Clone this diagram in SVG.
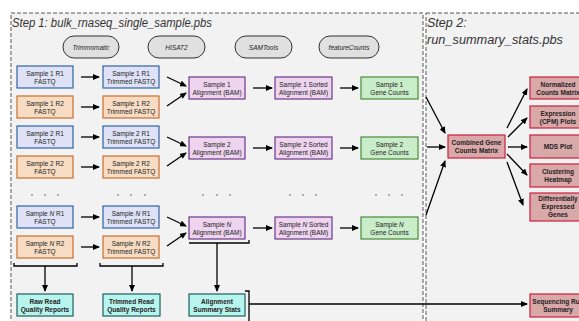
<svg xmlns="http://www.w3.org/2000/svg" width="579" height="321" viewBox="0 0 579 321">
<style>
text{font-family:"Liberation Sans",Arial,Helvetica,sans-serif;font-size:6.5px;fill:#222;text-anchor:middle}
.title{font-size:12.5px;font-style:italic;text-anchor:start;fill:#333}
.pill rect{fill:#e0e0e0;stroke:#333;stroke-width:1}
.pill text{font-style:italic}
.b{font-weight:bold}
.blue rect{fill:#dfe2f6;stroke:#2f64a6;stroke-width:1.2}
.orange rect{fill:#f7dcc3;stroke:#c8702e;stroke-width:1.2}
.purple rect{fill:#eed4ee;stroke:#6a3a88;stroke-width:1.2}
.green rect{fill:#c9ecc9;stroke:#4a8a3a;stroke-width:1.2}
.teal rect{fill:#b8f4ee;stroke:#1c5f5f;stroke-width:1.2}
.teal text,.red text{font-weight:bold}
.red rect{fill:#d9a8a8;stroke:#c81e3c;stroke-width:1.2}
.stage{fill:#f2f2f2;stroke:#555;stroke-width:1;stroke-dasharray:4 2}
.arr{stroke:#000;stroke-width:1.3;fill:none;marker-end:url(#ah)}
.ln{stroke:#000;stroke-width:1.3;fill:none}
.dot{fill:#333}
</style>
<defs>
<marker id="ah" markerWidth="7" markerHeight="6" refX="6" refY="3" orient="auto" markerUnits="userSpaceOnUse">
<path d="M0,0 L7,3 L0,6 Z" fill="#000"/>
</marker>
</defs>
<rect width="579" height="321" fill="#fff"/>
<g id="step1">
<rect class="stage" x="11" y="13" width="412" height="320"/>
<text class="title" x="12" y="27" textLength="200" lengthAdjust="spacingAndGlyphs">Step 1: bulk_rnaseq_single_sample.pbs</text>
</g>
<g id="step2">
<rect class="stage" x="426" y="13" width="200" height="320"/>
<text class="title" x="427" y="27">Step 2:</text>
<text class="title" x="427" y="44" textLength="136" lengthAdjust="spacingAndGlyphs">run_summary_stats.pbs</text>
</g>
<g id="tool-trimmomatic" class="pill"><rect x="63" y="36" width="56" height="22" rx="11"/><text x="91" y="49.5">Trimmomatic</text></g>
<g id="tool-hisat2" class="pill"><rect x="148" y="36" width="57" height="22" rx="11"/><text x="176.5" y="49.5">HISAT2</text></g>
<g id="tool-samtools" class="pill"><rect x="235" y="36" width="57" height="22" rx="11"/><text x="263.5" y="49.5">SAMTools</text></g>
<g id="tool-featurecounts" class="pill"><rect x="319" y="36" width="60" height="22" rx="11"/><text x="349" y="49.5">featureCounts</text></g>

<g id="s1r1" class="blue"><rect x="17" y="66" width="56" height="22"/><text x="45" y="75.5">Sample 1 R1</text><text x="45" y="83.5">FASTQ</text></g>
<g id="s1r2" class="orange"><rect x="17" y="96" width="56" height="22"/><text x="45" y="105.5">Sample 1 R2</text><text x="45" y="113.5">FASTQ</text></g>
<g id="s2r1" class="blue"><rect x="17" y="126" width="56" height="22"/><text x="45" y="135.5">Sample 2 R1</text><text x="45" y="143.5">FASTQ</text></g>
<g id="s2r2" class="orange"><rect x="17" y="156" width="56" height="22"/><text x="45" y="165.5">Sample 2 R2</text><text x="45" y="173.5">FASTQ</text></g>
<g id="snr1" class="blue"><rect x="17" y="206" width="56" height="22"/><text x="45" y="215.5">Sample <tspan font-style="italic">N</tspan> R1</text><text x="45" y="223.5">FASTQ</text></g>
<g id="snr2" class="orange"><rect x="17" y="236" width="56" height="22"/><text x="45" y="245.5">Sample <tspan font-style="italic">N</tspan> R2</text><text x="45" y="253.5">FASTQ</text></g>

<g id="t1r1" class="blue"><rect x="103" y="66" width="56" height="22"/><text x="131" y="75.5">Sample 1 R1</text><text x="131" y="83.5">Trimmed FASTQ</text></g>
<g id="t1r2" class="orange"><rect x="103" y="96" width="56" height="22"/><text x="131" y="105.5">Sample 1 R2</text><text x="131" y="113.5">Trimmed FASTQ</text></g>
<g id="t2r1" class="blue"><rect x="103" y="126" width="56" height="22"/><text x="131" y="135.5">Sample 2 R1</text><text x="131" y="143.5">Trimmed FASTQ</text></g>
<g id="t2r2" class="orange"><rect x="103" y="156" width="56" height="22"/><text x="131" y="165.5">Sample 2 R2</text><text x="131" y="173.5">Trimmed FASTQ</text></g>
<g id="tnr1" class="blue"><rect x="103" y="206" width="56" height="22"/><text x="131" y="215.5">Sample <tspan font-style="italic">N</tspan> R1</text><text x="131" y="223.5">Trimmed FASTQ</text></g>
<g id="tnr2" class="orange"><rect x="103" y="236" width="56" height="22"/><text x="131" y="245.5">Sample <tspan font-style="italic">N</tspan> R2</text><text x="131" y="253.5">Trimmed FASTQ</text></g>

<g id="a1" class="purple"><rect x="189" y="77" width="56" height="22"/><text x="217" y="86.5">Sample 1</text><text x="217" y="94.5">Alignment (BAM)</text></g>
<g id="a2" class="purple"><rect x="189" y="137" width="56" height="22"/><text x="217" y="146.5">Sample 2</text><text x="217" y="154.5">Alignment (BAM)</text></g>
<g id="an" class="purple"><rect x="189" y="217" width="56" height="22"/><text x="217" y="226.5">Sample <tspan font-style="italic">N</tspan></text><text x="217" y="234.5">Alignment (BAM)</text></g>

<g id="so1" class="purple"><rect x="275" y="77" width="57" height="22"/><text x="303.5" y="86.5">Sample 1 Sorted</text><text x="303.5" y="94.5">Alignment (BAM)</text></g>
<g id="so2" class="purple"><rect x="275" y="137" width="57" height="22"/><text x="303.5" y="146.5">Sample 2 Sorted</text><text x="303.5" y="154.5">Alignment (BAM)</text></g>
<g id="son" class="purple"><rect x="275" y="217" width="57" height="22"/><text x="303.5" y="226.5">Sample <tspan font-style="italic">N</tspan> Sorted</text><text x="303.5" y="234.5">Alignment (BAM)</text></g>

<g id="gc1" class="green"><rect x="361" y="77" width="57" height="22"/><text x="389.5" y="86.5">Sample 1</text><text x="389.5" y="94.5">Gene Counts</text></g>
<g id="gc2" class="green"><rect x="361" y="137" width="57" height="22"/><text x="389.5" y="146.5">Sample 2</text><text x="389.5" y="154.5">Gene Counts</text></g>
<g id="gcn" class="green"><rect x="361" y="217" width="57" height="22"/><text x="389.5" y="226.5">Sample <tspan font-style="italic">N</tspan></text><text x="389.5" y="234.5">Gene Counts</text></g>

<g id="raw-qc" class="teal"><rect x="17" y="294" width="56" height="22"/><text x="45" y="303.5">Raw Read</text><text x="45" y="311.5">Quality Reports</text></g>
<g id="trim-qc" class="teal"><rect x="103" y="294" width="57" height="22"/><text x="131.5" y="303.5">Trimmed Read</text><text x="131.5" y="311.5">Quality Reports</text></g>
<g id="align-stats" class="teal"><rect x="189" y="294" width="56" height="22"/><text x="217" y="303.5">Alignment</text><text x="217" y="311.5">Summary Stats</text></g>

<g id="combined" class="red"><rect x="448" y="135" width="57" height="23"/><text x="476.5" y="145">Combined Gene</text><text x="476.5" y="153">Counts Matrix</text></g>
<g id="norm" class="red"><rect x="530" y="77" width="56" height="22"/><text x="558" y="86.5">Normalized</text><text x="558" y="94.5">Counts Matrix</text></g>
<g id="cpm" class="red"><rect x="530" y="106" width="56" height="22"/><text x="558" y="115.5">Expression</text><text x="558" y="123.5">(CPM) Plots</text></g>
<g id="mds" class="red"><rect x="530" y="135" width="56" height="23"/><text x="558" y="148.5">MDS Plot</text></g>
<g id="heatmap" class="red"><rect x="530" y="164" width="56" height="23"/><text x="558" y="173.5">Clustering</text><text x="558" y="181.5">Heatmap</text></g>
<g id="deg" class="red"><rect x="530" y="193" width="56" height="28"/><text x="558" y="201">Differentially</text><text x="558" y="209">Expressed</text><text x="558" y="217">Genes</text></g>
<g id="seqrun" class="red"><rect x="530" y="294" width="56" height="23"/><text x="558" y="303.5">Sequencing Run</text><text x="558" y="311.5">Summary</text></g>

<g id="ellipses">
<circle class="dot" cx="32" cy="195" r="0.7"/><circle class="dot" cx="45" cy="195" r="0.7"/><circle class="dot" cx="58" cy="195" r="0.7"/>
<circle class="dot" cx="118" cy="195" r="0.7"/><circle class="dot" cx="131" cy="195" r="0.7"/><circle class="dot" cx="145" cy="195" r="0.7"/>
<circle class="dot" cx="203" cy="195" r="0.7"/><circle class="dot" cx="217" cy="195" r="0.7"/><circle class="dot" cx="230" cy="195" r="0.7"/>
<circle class="dot" cx="290" cy="195" r="0.7"/><circle class="dot" cx="303" cy="195" r="0.7"/><circle class="dot" cx="316" cy="195" r="0.7"/>
<circle class="dot" cx="376" cy="195" r="0.7"/><circle class="dot" cx="389" cy="195" r="0.7"/><circle class="dot" cx="402" cy="195" r="0.7"/>
</g>

<g id="connectors">
<line class="arr" x1="81" y1="77" x2="99" y2="77"/>
<line class="arr" x1="81" y1="107" x2="99" y2="107"/>
<line class="arr" x1="81" y1="137" x2="99" y2="137"/>
<line class="arr" x1="81" y1="167" x2="99" y2="167"/>
<line class="arr" x1="81" y1="217" x2="99" y2="217"/>
<line class="arr" x1="81" y1="247" x2="99" y2="247"/>

<line class="arr" x1="167" y1="77" x2="186" y2="86"/>
<line class="arr" x1="167" y1="106" x2="186" y2="93"/>
<line class="arr" x1="167" y1="137" x2="186" y2="146"/>
<line class="arr" x1="167" y1="166" x2="186" y2="153"/>
<line class="arr" x1="167" y1="217" x2="186" y2="226"/>
<line class="arr" x1="167" y1="246" x2="186" y2="233"/>

<line class="arr" x1="253" y1="88" x2="272" y2="88"/>
<line class="arr" x1="253" y1="148" x2="272" y2="148"/>
<line class="arr" x1="253" y1="228" x2="272" y2="228"/>
<line class="arr" x1="340" y1="88" x2="358" y2="88"/>
<line class="arr" x1="340" y1="148" x2="358" y2="148"/>
<line class="arr" x1="340" y1="228" x2="358" y2="228"/>

<path class="ln" d="M14,263 V266 H77 V263"/>
<line class="arr" x1="45" y1="266" x2="45" y2="291"/>
<path class="ln" d="M100,263 V266 H163 V263"/>
<line class="arr" x1="132" y1="266" x2="132" y2="291"/>
<path class="ln" d="M189,243 H249 V240"/>
<line class="arr" x1="217" y1="243" x2="217" y2="291"/>
<path class="ln" d="M245,291 H249 V325"/>
<line class="arr" x1="249" y1="304" x2="527" y2="304"/>

<line class="arr" x1="426" y1="97" x2="445" y2="133"/>
<line class="arr" x1="427" y1="147" x2="445" y2="147"/>
<line class="arr" x1="426" y1="215" x2="445" y2="161"/>

<line class="arr" x1="507" y1="128" x2="527" y2="89"/>
<line class="arr" x1="508" y1="137" x2="527" y2="118"/>
<line class="arr" x1="508" y1="147" x2="527" y2="147"/>
<line class="arr" x1="507" y1="154" x2="527" y2="175"/>
<line class="arr" x1="507" y1="162" x2="523" y2="205"/>
</g>
</svg>
